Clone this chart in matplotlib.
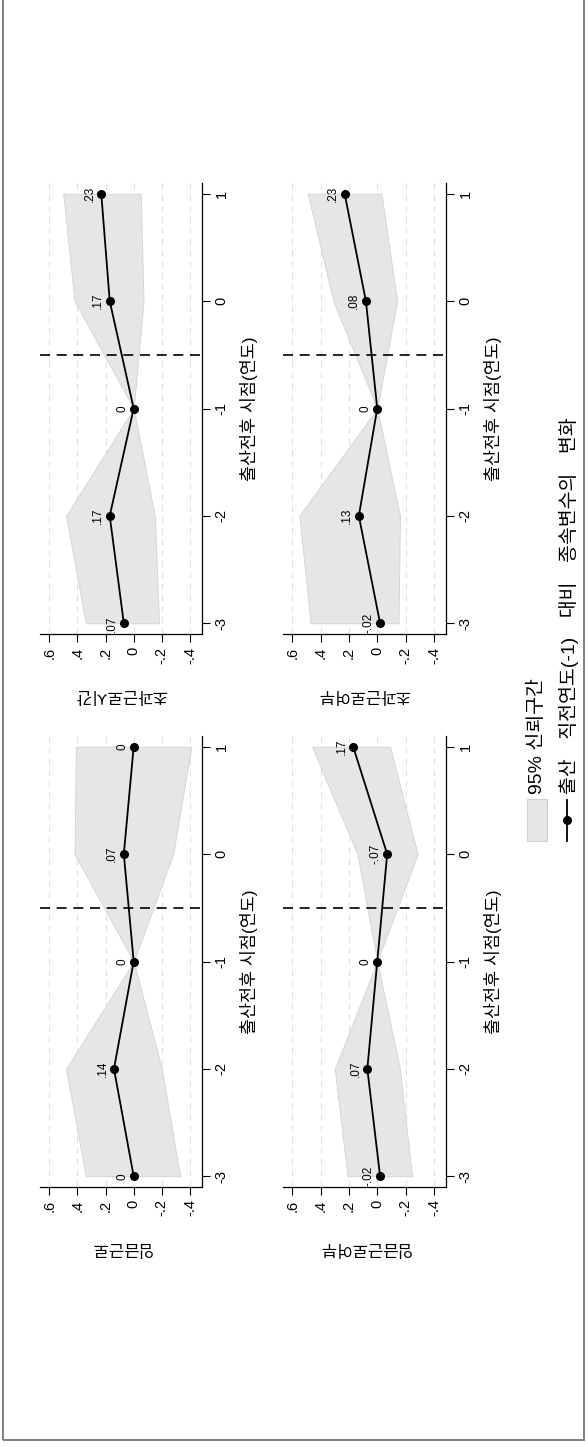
import matplotlib
matplotlib.use("Agg")
import matplotlib.pyplot as plt
from matplotlib.patches import Rectangle
from matplotlib.lines import Line2D

plt.rcParams["font.family"] = ["Liberation Sans", "Noto Sans CJK KR", "DejaVu Sans"]

W, H = 588, 1447

# ── data (event time vs. coefficient, 95% CI) ────────────────────────────────
years = [-3, -2, -1, 0, 1]
year_labels = ["-3", "-2", "-1", "0", "1"]
value_ticks = [0.6, 0.4, 0.2, 0.0, -0.2, -0.4]
value_labels = [".6", ".4", ".2", "0", "-.2", "-.4"]

title_a = "초과근로시간"
coef_a = [0.07, 0.17, 0.0, 0.17, 0.23]
lo_a = [-0.18, -0.15, 0.0, -0.07, -0.05]
hi_a = [0.34, 0.48, 0.0, 0.42, 0.50]
text_a = [".07", ".17", "0", ".17", ".23"]

title_b = "임금근로"
coef_b = [0.0, 0.14, 0.0, 0.07, 0.0]
lo_b = [-0.33, -0.20, 0.0, -0.28, -0.41]
hi_b = [0.34, 0.48, 0.0, 0.42, 0.41]
text_b = ["0", ".14", "0", ".07", "0"]

title_c = "초과근로여부"
coef_c = [-0.02, 0.13, 0.0, 0.08, 0.23]
lo_c = [-0.15, -0.16, 0.0, -0.14, -0.03]
hi_c = [0.47, 0.55, 0.0, 0.31, 0.49]
text_c = ["-.02", ".13", "0", ".08", ".23"]

title_d = "임금근로여부"
coef_d = [-0.02, 0.07, 0.0, -0.07, 0.17]
lo_d = [-0.245, -0.16, 0.0, -0.285, -0.09]
hi_d = [0.21, 0.30, 0.0, 0.14, 0.46]
text_d = ["-.02", ".07", "0", "-.07", ".17"]

xtitle = "출산전후 시점(연도)"
legend_ci = "95% 신뢰구간"
legend_line = "출산\u3000직전연도(-1)\u3000대비\u3000종속변수의\u3000변화"

fig = plt.figure(figsize=(W / 100, H / 100), dpi=100)


def add_panel(x0, x1, y0, y1, title, coef, lo, hi, texts):
    # pixel box of the plot region (y measured from top of image)
    ax = fig.add_axes([x0 / W, 1 - y1 / H, (x1 - x0) / W, (y1 - y0) / H])
    for v in value_ticks:
        ax.axvline(v, color="#e2e2e2", lw=0.8, ls=(0, (6, 4)), zorder=0)
    ax.fill_betweenx(years, lo, hi, color="#e6e6e6", ec="#d2d2d2", lw=0.6, zorder=1)
    ax.axhline(-0.5, color="black", lw=1.2, ls=(0, (6, 4)), zorder=2)
    ax.plot(coef, years, color="black", lw=1.3, marker="o", ms=5.5, zorder=3)
    for c, yr, t in zip(coef, years, texts):
        ax.annotate(t, (c, yr), xytext=(-4, 0), textcoords="offset points",
                    rotation=90, ha="right", va="center", fontsize=8.5)

    ax.set_xlim(0.665, -0.485)
    ax.set_ylim(-3.1, 1.1)
    for s in ("top", "left"):
        ax.spines[s].set_visible(False)
    for s in ("right", "bottom"):
        ax.spines[s].set_linewidth(0.9)

    ax.yaxis.tick_right()
    ax.set_yticks(years)
    ax.set_yticklabels(year_labels, rotation=90, va="center")
    ax.set_xticks(value_ticks)
    ax.set_xticklabels(value_labels, rotation=90, ha="center", va="top")
    ax.tick_params(length=6, width=0.8, labelsize=10.5, pad=3)

    ax.yaxis.set_label_position("right")
    ax.set_ylabel(xtitle, rotation=90, fontsize=12.5, labelpad=8)
    ax.set_xlabel(title, rotation=180, fontsize=12, labelpad=17)
    return ax


add_panel(40, 202, 183, 634, title_a, coef_a, lo_a, hi_a, text_a)
add_panel(40, 202, 736, 1187, title_b, coef_b, lo_b, hi_b, text_b)
add_panel(283, 446, 183, 634, title_c, coef_c, lo_c, hi_c, text_c)
add_panel(283, 446, 736, 1187, title_d, coef_d, lo_d, hi_d, text_d)

# ── legend (drawn in figure pixels) ──────────────────────────────────────────
fig.patches.append(Rectangle((527 / W, 1 - 841 / H), 20 / W, 42 / H,
                             transform=fig.transFigure, fc="#e6e6e6", ec="#d2d2d2", lw=0.8))
fig.lines.append(Line2D([567 / W, 567 / W], [1 - 800 / H, 1 - 841 / H],
                        transform=fig.transFigure, color="black", lw=1.3))
fig.lines.append(Line2D([567 / W], [1 - 820 / H], transform=fig.transFigure,
                        color="black", marker="o", ms=5.5))
fig.text(537 / W, 1 - 794 / H, legend_ci, rotation=90, ha="center", va="bottom", fontsize=14)
fig.text(569 / W, 1 - 794 / H, legend_line, rotation=90, ha="center", va="bottom", fontsize=14)

# outer frame (top edge pushed off the canvas)
fig.patches.append(Rectangle((3 / W, 7 / H), 581 / W, 1.2, transform=fig.transFigure,
                             fill=False, ec="#7f7f7f", lw=1.4))

fig.savefig("out.png", dpi=100)
